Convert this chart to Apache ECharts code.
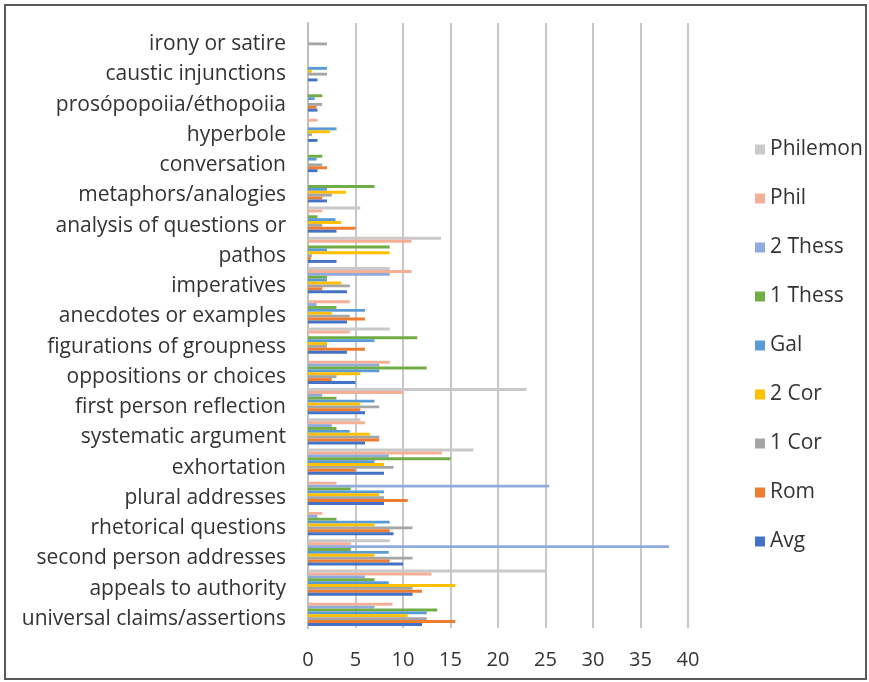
<!DOCTYPE html>
<html>
<head>
<meta charset="utf-8">
<script src="https://cdn.jsdelivr.net/npm/echarts@6/dist/echarts.min.js"></script>
<style>
html,body{margin:0;padding:0;background:#fff;}
#frame{position:absolute;left:4px;top:4px;width:859px;height:672px;border:2px solid #5a5a5a;}
#chart{position:absolute;left:0;top:0;width:869px;height:682px;}
</style>
</head>
<body>
<div id="frame"></div>
<div id="chart"></div>
<script>
// categories listed top-to-bottom as they appear in the picture
const categories = ["irony or satire","caustic injunctions","prosópopoiia/éthopoiia","hyperbole","conversation","metaphors/analogies","analysis of questions or","pathos","imperatives","anecdotes or examples","figurations of groupness","oppositions or choices","first person reflection","systematic argument","exhortation","plural addresses","rhetorical questions","second person addresses","appeals to authority","universal claims/assertions"];
const seriesNames = ["Avg","Rom","1 Cor","2 Cor","Gal","1 Thess","2 Thess","Phil","Philemon"];
const legendOrder = ["Philemon","Phil","2 Thess","1 Thess","Gal","2 Cor","1 Cor","Rom","Avg"];
const xTicks = [0,5,10,15,20,25,30,35,40];
// values, same order as categories (top-to-bottom)
const avg      = [0,1.0,1.0,1.0,1.0,2.0,3.0,3.0,4.1,4.1,4.1,5.0,6.0,6.0,8.0,8.0,9.0,10.0,11.0,12.0];
const rom      = [0,0,0.9,0,2.0,1.5,5.0,0.3,1.5,6.0,6.0,2.5,5.5,7.5,5.0,10.5,8.6,8.6,12.0,15.5];
const cor1     = [2.0,2.0,1.5,0.4,1.5,2.5,1.5,0.4,4.4,4.4,2.0,3.0,7.5,7.5,9.0,8.0,11.0,11.0,11.0,12.5];
const cor2     = [0,0.4,0,2.3,0,4.0,3.5,8.6,3.5,2.5,2.0,5.5,5.5,6.5,8.0,7.5,7.0,7.0,15.5,10.5];
const gal      = [0,2.0,0.7,3.0,0.9,2.0,2.9,2.0,2.0,6.0,7.0,7.5,7.0,4.4,7.0,8.0,8.6,8.5,8.5,12.5];
const thess1   = [0,0,1.5,0,1.5,7.0,1.0,8.6,2.0,3.0,11.5,12.5,3.0,3.0,15.0,4.5,3.0,4.5,7.0,13.6];
const thess2   = [0,0,0,0,0,0,0,0,8.6,0.9,0,7.5,1.5,2.5,8.5,25.4,1.0,38.0,6.0,7.0];
const phil     = [0,0,0,1.0,0,0,1.5,10.9,10.9,4.4,4.4,8.6,10.0,6.0,14.1,3.0,1.5,4.5,13.0,8.9];
const philemon = [0,0,0,0,0,0,5.5,14.0,8.6,0,8.6,0,23.0,5.5,17.4,0,0,8.6,25.0,0];

const values = [avg,rom,cor1,cor2,gal,thess1,thess2,phil,philemon];
const colors = ["#4472C4","#ED7D31","#A5A5A5","#FFC000","#5B9BD5","#70AD47","#8FAADC","#F4B096","#C9C9C9"];

const font = "'Open Sans', sans-serif";
const txt = '#333333';
const chart = echarts.init(document.getElementById('chart'));
// ECharts stacks horizontal bar groups top-down in series order, so add series last-to-first
const order = seriesNames.map((n,i)=>i).reverse();
chart.setOption({
  animation:false,
  textStyle:{fontFamily:font},
  grid:{left:308,right:181,top:23,bottom:54,containLabel:false},
  legend:{
    data: legendOrder,
    orient:'vertical',
    left:750, top:134,
    itemWidth:10, itemHeight:10, itemGap:28,
    icon:'rect',
    textStyle:{fontSize:21,color:txt,fontFamily:font}
  },
  xAxis:{
    type:'value', min:xTicks[0], max:xTicks[xTicks.length-1], interval:5,
    axisLine:{show:false}, axisTick:{show:false},
    axisLabel:{fontSize:20,color:txt,margin:22,fontFamily:font},
    splitLine:{lineStyle:{color:'#C8C8C8',width:2}}
  },
  yAxis:{
    type:'category',
    data: categories.slice().reverse(),
    axisLine:{lineStyle:{color:'#BFBFBF',width:2}},
    axisTick:{length:5,lineStyle:{color:'#BFBFBF'}},
    axisLabel:{fontSize:21,color:txt,margin:22,fontFamily:font,interval:0,verticalAlign:'top',lineHeight:12}
  },
  series: order.map(i=>({
    name:seriesNames[i], type:'bar',
    data: values[i].slice().reverse(),
    barGap:'0%', barCategoryGap:'14%',
    itemStyle:{color:colors[i]}
  }))
});
</script>
</body>
</html>
